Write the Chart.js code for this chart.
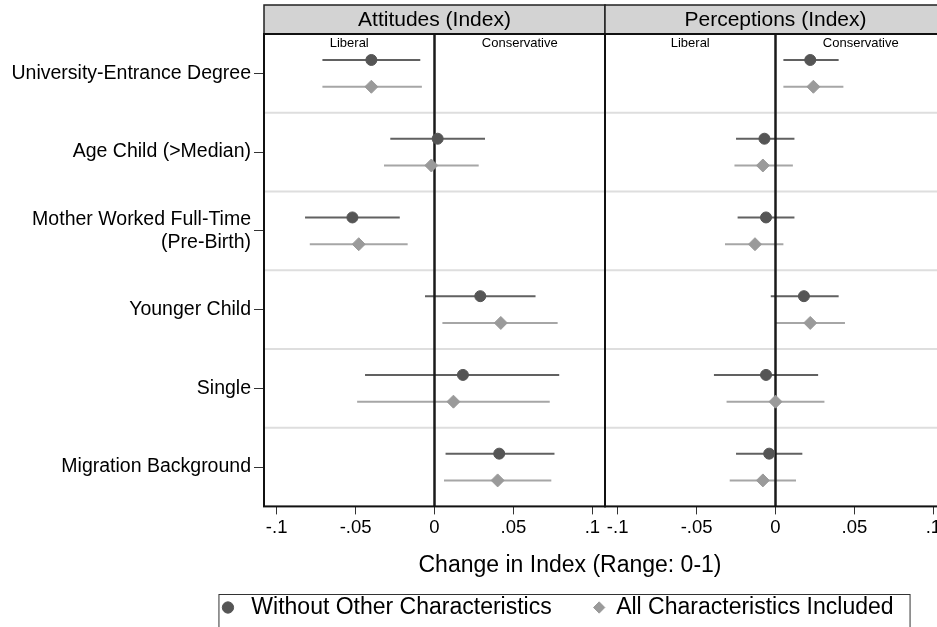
<!DOCTYPE html>
<html>
<head>
<meta charset="utf-8">
<script src="https://cdn.jsdelivr.net/npm/chart.js@4.4.1/dist/chart.umd.min.js"></script>
<style>
  html, body { margin: 0; padding: 0; background: #fff; overflow: hidden; }
  #wrap { width: 960px; height: 629px; }
</style>
</head>
<body>
<div id="wrap"><canvas id="coef"></canvas></div>
<script>
Chart.defaults.font.family = "'Liberation Sans', Arial, Helvetica, sans-serif";
Chart.defaults.color = '#000';

// groups, top to bottom
const categories = [
  'University-Entrance Degree',
  'Age Child (>Median)',
  ['Mother Worked Full-Time', '(Pre-Birth)'],
  'Younger Child',
  'Single',
  'Migration Background'
];
const panelTitles = ['Attitudes (Index)', 'Perceptions (Index)'];
const seriesNames = ['Without Other Characteristics', 'All Characteristics Included'];
const xTickValues = [-0.1, -0.05, 0, 0.05, 0.1];
const xTickLabels = ['-.1', '-.05', '0', '.05', '.1'];
const sideLabels = ['Liberal', 'Conservative'];
const sideLabelX = [-0.054, 0.054];

// Attitudes (Index)
const attWithoutEst = [-0.040, 0.002, -0.052, 0.029, 0.018, 0.041];
const attWithoutLo  = [-0.071, -0.028, -0.082, -0.006, -0.044, 0.007];
const attWithoutHi  = [-0.009, 0.032, -0.022, 0.064, 0.079, 0.076];
const attAllEst = [-0.040, -0.002, -0.048, 0.042, 0.012, 0.040];
const attAllLo  = [-0.071, -0.032, -0.079, 0.005, -0.049, 0.006];
const attAllHi  = [-0.008, 0.028, -0.017, 0.078, 0.073, 0.074];

// Perceptions (Index)
const perWithoutEst = [0.022, -0.007, -0.006, 0.018, -0.006, -0.004];
const perWithoutLo  = [0.005, -0.025, -0.024, -0.003, -0.039, -0.025];
const perWithoutHi  = [0.040, 0.012, 0.012, 0.040, 0.027, 0.017];
const perAllEst = [0.024, -0.008, -0.013, 0.022, 0.000, -0.008];
const perAllLo  = [0.005, -0.026, -0.032, 0.000, -0.031, -0.029];
const perAllHi  = [0.043, 0.011, 0.005, 0.044, 0.031, 0.013];

const DARK = '#555555', DARK_LINE = '#616161';
const LIGHT = '#9a9a9a', LIGHT_LINE = '#a6a6a6';
const ROW_SHIFT = 0.17;
const X_LIM = 0.108;

function pointSet(label, est, shift, shape, radius, color, axis) {
  return {
    label: label,
    xAxisID: axis,
    data: est.map((v, i) => ({ x: v, y: i + shift })),
    pointStyle: shape,
    pointRadius: radius,
    pointHoverRadius: radius,
    backgroundColor: color,
    borderColor: color,
    borderWidth: 1
  };
}

function barSet(lo, hi, shift, color, axis) {
  const data = [];
  lo.forEach((l, i) => {
    data.push({ x: l, y: i + shift }, { x: hi[i], y: i + shift }, { x: null, y: null });
  });
  return {
    label: 'ci',
    xAxisID: axis,
    data: data,
    showLine: true,
    spanGaps: false,
    pointRadius: 0,
    pointHoverRadius: 0,
    borderColor: color,
    borderWidth: 2
  };
}

const datasets = [
  pointSet(seriesNames[0], attWithoutEst, -ROW_SHIFT, 'circle', 5.5, DARK, 'x'),
  pointSet(seriesNames[1], attAllEst, ROW_SHIFT, 'rectRot', 6.5, LIGHT, 'x'),
  pointSet(seriesNames[0], perWithoutEst, -ROW_SHIFT, 'circle', 5.5, DARK, 'x2'),
  pointSet(seriesNames[1], perAllEst, ROW_SHIFT, 'rectRot', 6.5, LIGHT, 'x2'),
  barSet(attWithoutLo, attWithoutHi, -ROW_SHIFT, DARK_LINE, 'x'),
  barSet(attAllLo, attAllHi, ROW_SHIFT, LIGHT_LINE, 'x'),
  barSet(perWithoutLo, perWithoutHi, -ROW_SHIFT, DARK_LINE, 'x2'),
  barSet(perAllLo, perAllHi, ROW_SHIFT, LIGHT_LINE, 'x2')
];

function panelAxis() {
  return {
    type: 'linear',
    position: 'bottom',
    stack: 'panels',
    stackWeight: 1,
    min: -X_LIM,
    max: X_LIM,
    afterBuildTicks: axis => { axis.ticks = xTickValues.map(v => ({ value: v })); },
    afterFit: axis => { axis.height = 30; },
    ticks: {
      autoSkip: false,
      maxRotation: 0,
      padding: 2,
      font: { size: 18.5 },
      color: '#000',
      callback: (v, i) => xTickLabels[i]
    },
    grid: { drawOnChartArea: false, drawTicks: true, tickLength: 8, tickColor: '#333', tickWidth: 1 },
    border: { display: false }
  };
}

// panel frames, header strips, zero lines, group separators
const panelDecor = {
  id: 'panelDecor',
  afterLayout(chart) {
    const lg = chart.legend, tb = chart.titleBlock;
    const dl = 558 - (lg.left + lg.right) / 2;
    lg.left += dl; lg.right += dl;
    const dt = 570 - (tb.left + tb.right) / 2;
    tb.left += dt; tb.right += dt;
  },
  beforeDatasetsDraw(chart) {
    const { ctx, chartArea: a } = chart;
    const y = chart.scales.y;
    ctx.save();
    ctx.strokeStyle = '#dedede';
    ctx.lineWidth = 2;
    for (let k = 0; k < categories.length - 1; k++) {
      const py = y.getPixelForValue(k + 0.5);
      ctx.beginPath();
      ctx.moveTo(a.left, py);
      ctx.lineTo(a.right, py);
      ctx.stroke();
    }
    ctx.restore();
  },
  beforeDatasetDraw(chart, args) {
    if (args.index !== 3) return;
    const { ctx, chartArea: a } = chart;
    ctx.save();
    ctx.strokeStyle = '#1a1a1a';
    ctx.lineWidth = 2.5;
    ['x', 'x2'].forEach(id => {
      const px = chart.scales[id].getPixelForValue(0);
      ctx.beginPath();
      ctx.moveTo(px, a.top);
      ctx.lineTo(px, a.bottom);
      ctx.stroke();
    });
    ctx.restore();
  },
  afterDatasetsDraw(chart) {
    const { ctx, chartArea: a } = chart;
    ctx.save();
    ['x', 'x2'].forEach((id, p) => {
      const s = chart.scales[id];
      // header strip
      ctx.fillStyle = '#d3d3d3';
      ctx.fillRect(s.left, 5, s.width, a.top - 5);
      ctx.strokeStyle = '#222';
      ctx.lineWidth = 1.5;
      ctx.strokeRect(s.left, 5, s.width, a.top - 5);
      ctx.fillStyle = '#000';
      ctx.font = "21px 'Liberation Sans', Arial, sans-serif";
      ctx.textAlign = 'center';
      ctx.textBaseline = 'middle';
      ctx.fillText(panelTitles[p], (s.left + s.right) / 2, (5 + a.top) / 2 + 1);
      // side notes
      ctx.font = "13px 'Liberation Sans', Arial, sans-serif";
      sideLabels.forEach((t, j) => {
        ctx.fillText(t, s.getPixelForValue(sideLabelX[j]), a.top + 9);
      });
      // frame
      ctx.strokeStyle = '#111';
      ctx.lineWidth = 2;
      ctx.strokeRect(s.left, a.top, s.width, a.height);
    });
    ctx.restore();
  },
  afterDraw(chart) {
    const { ctx } = chart;
    const hb = chart.legend.legendHitBoxes;
    if (!hb || !hb.length) return;
    const last = hb[hb.length - 1];
    const left = hb[0].left - 4;
    const right = last.left + last.width + 16;
    const top = chart.legend.top + 8;
    ctx.save();
    ctx.strokeStyle = '#333';
    ctx.lineWidth = 1;
    ctx.strokeRect(left + 0.5, top + 0.5, right - left, chart.height - top + 10);
    ctx.restore();
  }
};

new Chart(document.getElementById('coef'), {
  type: 'scatter',
  data: { datasets: datasets },
  options: {
    responsive: true,
    maintainAspectRatio: false,
    animation: false,
    layout: { padding: { top: 34, right: 14, left: 0, bottom: 0 } },
    scales: {
      x: panelAxis(),
      x2: panelAxis(),
      y: {
        type: 'linear',
        reverse: true,
        min: -0.5,
        max: categories.length - 0.5,
        afterBuildTicks: axis => { axis.ticks = categories.map((c, i) => ({ value: i })); },
        afterFit: axis => { axis.width = 264; },
        ticks: {
          autoSkip: false,
          padding: 3,
          font: { size: 19.5 },
          color: '#000',
          callback: (v, i) => categories[i]
        },
        grid: { drawOnChartArea: false, drawTicks: true, tickLength: 10, tickColor: '#333', tickWidth: 1 },
        border: { display: false }
      }
    },
    plugins: {
      tooltip: { enabled: false },
      title: {
        display: true,
        text: 'Change in Index (Range: 0-1)',
        position: 'bottom',
        weight: 500,
        color: '#000',
        font: { size: 23, weight: 'normal' },
        padding: { top: 15, bottom: 7 }
      },
      legend: {
        display: true,
        position: 'bottom',
        labels: {
          usePointStyle: true,
          boxWidth: 11,
          boxHeight: 8,
          padding: 10,
          color: '#000',
          font: { size: 23 },
          filter: item => item.datasetIndex < 2,
          generateLabels(chart) {
            const items = Chart.defaults.plugins.legend.labels.generateLabels(chart);
            items.forEach(it => { if (it.datasetIndex === 0) it.text = ' ' + it.text + '     '; });
            return items;
          }
        }
      }
    }
  },
  plugins: [panelDecor]
});
</script>
</body>
</html>
